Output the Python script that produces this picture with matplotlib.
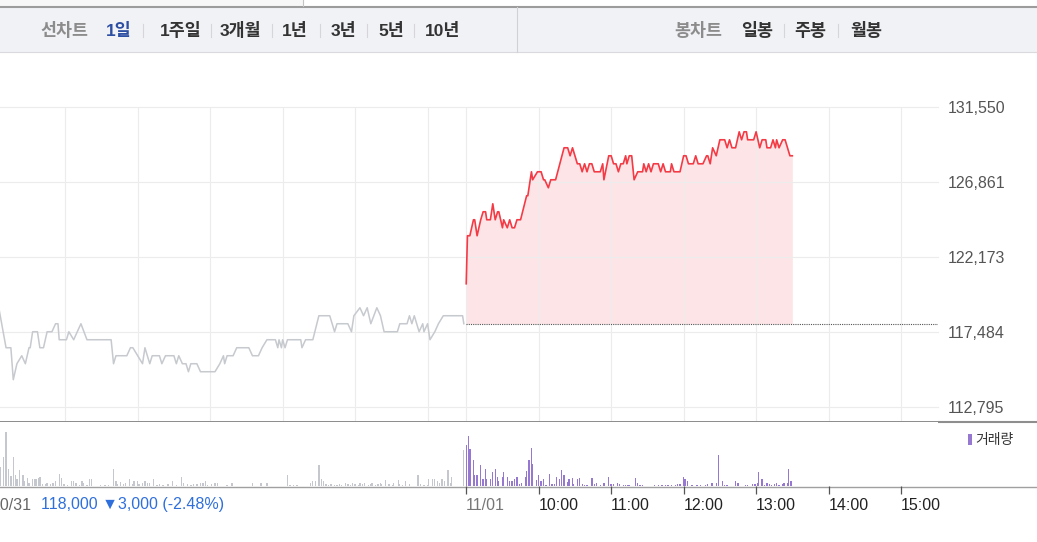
import matplotlib
matplotlib.use('Agg')
import matplotlib.pyplot as plt
from matplotlib.patches import Rectangle
from matplotlib.ticker import FuncFormatter

plt.rcParams['font.family'] = ['Liberation Sans', 'Noto Sans CJK KR', 'DejaVu Sans']

# ---- data ----
price_ticks = [112795, 117484, 122173, 126861, 131550]
prev_close = 118000
hour_minutes = [0, 60, 120, 180, 240, 300, 360]
hour_labels = ['11/01', '10:00', '11:00', '12:00', '13:00', '14:00', '15:00']
day_gap = 392  # minutes between 10/31 open and 11/01 open on the chart axis

# 10/31 (minutes after 09:00, price)
prev_min = [5, 11, 15, 17, 20, 24, 27, 30, 31, 33,
            37, 39, 42, 45, 49, 52, 54, 55, 61, 63,
            67, 70, 73, 78, 98, 100, 102, 111, 114, 116,
            120, 124, 126, 130, 132, 138, 140, 143, 150, 152,
            154, 157, 160, 162, 164, 169, 172, 184, 188, 191,
            192, 194, 199, 202, 212, 215, 220, 223, 227, 234,
            236, 237, 239, 240, 242, 244, 255, 256, 259, 265,
            270, 279, 283, 285, 294, 297, 299, 304, 307, 310,
            313, 318, 321, 324, 335, 337, 343, 345, 347, 349,
            351, 353, 356, 357, 360, 362, 366, 369, 373, 389,
            390]
prev_price = [119000, 116500, 116500, 114500, 115500, 116000, 115500, 116500, 116500, 117500,
              117500, 116500, 116500, 117500, 117500, 118000, 118000, 117000, 117000, 117500,
              117000, 117500, 118000, 117000, 117000, 115500, 116000, 116000, 116500, 116500,
              116000, 115500, 116500, 115500, 116000, 116000, 115500, 116000, 116000, 115500,
              116000, 115500, 115500, 115000, 115500, 115500, 115000, 115000, 115500, 116000,
              115500, 116000, 116000, 116500, 116500, 116000, 116000, 116500, 117000, 117000,
              116500, 117000, 116500, 117000, 116500, 117000, 117000, 116500, 117000, 117000,
              118500, 118500, 117500, 118000, 118000, 117500, 118500, 119000, 118500, 119000,
              118000, 119000, 118500, 117500, 117500, 118000, 118000, 118500, 118000, 118500,
              118000, 117500, 118000, 117500, 118000, 117000, 117500, 118000, 118500, 118500,
              118000]

# 11/01
today_min = [0, 1, 3, 6, 7, 9, 12, 14, 16, 17,
             20, 22, 24, 26, 27, 30, 31, 34, 36, 38,
             40, 42, 45, 50, 51, 54, 55, 59, 62, 64,
             65, 68, 70, 74, 81, 84, 86, 88, 92, 94,
             96, 98, 100, 102, 104, 106, 111, 113, 114, 118,
             120, 122, 124, 126, 128, 130, 132, 133, 135, 137,
             139, 142, 146, 147, 149, 151, 153, 155, 159, 161,
             163, 165, 169, 170, 172, 177, 180, 182, 184, 188,
             190, 192, 196, 199, 200, 202, 204, 207, 210, 214,
             216, 218, 220, 223, 226, 228, 230, 232, 233, 238,
             240, 243, 245, 248, 249, 252, 254, 256, 257, 259,
             262, 264, 268, 270]
today_price = [120500, 123500, 123500, 124500, 124500, 123500, 124500, 125000, 125000, 124500,
               124500, 125500, 124500, 125000, 125000, 124000, 124500, 124000, 124500, 124000,
               124000, 124500, 124500, 126000, 126000, 127500, 127000, 127500, 127500, 127000,
               127000, 126500, 127000, 127000, 129000, 129000, 128500, 129000, 128000, 128000,
               127500, 128000, 127500, 128000, 128000, 127500, 127500, 128000, 127000, 128500,
               128500, 128000, 128000, 127500, 128000, 128000, 128500, 128000, 128500, 128500,
               127000, 127500, 127500, 128000, 127500, 128000, 127500, 128000, 128000, 127500,
               128000, 127500, 127500, 128000, 127500, 127500, 128500, 128500, 128000, 128000,
               128500, 128000, 128000, 128500, 128500, 128000, 129000, 128500, 129500, 129500,
               129000, 129500, 129000, 129000, 130000, 129500, 130000, 130000, 129500, 129500,
               130000, 129000, 129500, 129500, 129000, 129000, 129500, 129000, 129500, 129000,
               129500, 129500, 128500, 128500]

# volume (relative units)
prev_vol_min = [6, 9, 11, 13, 15, 17, 19, 20, 22, 25,
                26, 29, 30, 33, 35, 36, 38, 39, 41, 44,
                45, 48, 50, 52, 55, 57, 59, 62, 65, 67,
                69, 72, 74, 75, 78, 80, 82, 89, 93, 96,
                100, 102, 103, 106, 108, 110, 113, 116, 117, 120,
                121, 124, 126, 128, 130, 133, 136, 138, 141, 145,
                149, 152, 156, 158, 161, 164, 166, 169, 172, 174,
                176, 178, 181, 184, 186, 194, 198, 215, 222, 227,
                244, 246, 249, 252, 263, 265, 267, 270, 272, 274,
                276, 278, 280, 283, 285, 287, 289, 292, 294, 296,
                298, 300, 303, 304, 306, 308, 311, 313, 314, 317,
                319, 321, 322, 325, 328, 331, 332, 336, 337, 339,
                342, 345, 352, 354, 357, 360, 361, 364, 366, 368,
                370, 372, 374, 377, 379, 380, 390]
prev_vol = [19, 29, 54, 17, 10, 29, 11, 7, 16, 11,
            5, 8, 3, 7, 7, 7, 8, 9, 2, 2,
            3, 2, 3, 5, 12, 8, 2, 1, 5, 5,
            3, 1, 5, 3, 1, 7, 7, 1, 1, 1,
            17, 5, 2, 4, 2, 3, 7, 2, 5, 5,
            2, 3, 5, 3, 3, 7, 1, 2, 1, 2,
            5, 1, 9, 3, 2, 1, 2, 2, 3, 3,
            5, 1, 2, 3, 3, 1, 3, 3, 3, 3,
            11, 1, 1, 1, 3, 5, 5, 21, 7, 5,
            2, 1, 2, 1, 1, 2, 1, 3, 2, 1,
            3, 2, 1, 3, 2, 3, 1, 2, 3, 1,
            2, 3, 2, 6, 2, 1, 3, 6, 2, 1,
            5, 2, 11, 2, 1, 1, 7, 7, 7, 5,
            3, 7, 5, 16, 3, 9, 36]
today_vol_min = [0, 2, 3, 6, 7, 9, 12, 14, 16, 17,
                 20, 22, 24, 26, 27, 30, 31, 34, 36, 38,
                 40, 42, 44, 46, 49, 50, 52, 54, 55, 58,
                 60, 62, 64, 66, 69, 71, 73, 75, 77, 79,
                 81, 84, 85, 88, 89, 92, 94, 96, 98, 100,
                 104, 106, 108, 111, 114, 118, 120, 122, 125, 127,
                 130, 132, 134, 135, 140, 142, 144, 146, 156, 159,
                 162, 165, 167, 170, 173, 175, 177, 180, 181, 183,
                 187, 191, 194, 198, 200, 203, 204, 207, 209, 212,
                 214, 216, 223, 225, 231, 233, 237, 239, 241, 242,
                 245, 247, 249, 251, 253, 255, 257, 259, 262, 263,
                 266, 267, 269]
today_vol = [41, 50, 37, 26, 11, 11, 21, 7, 17, 7,
             7, 14, 17, 9, 5, 9, 14, 9, 5, 5,
             7, 9, 2, 3, 9, 15, 26, 38, 22, 6,
             11, 5, 7, 1, 12, 2, 2, 9, 7, 16,
             11, 4, 7, 8, 2, 7, 8, 2, 1, 1,
             8, 2, 3, 1, 3, 9, 2, 2, 3, 2,
             1, 1, 1, 1, 8, 3, 1, 1, 1, 1,
             1, 1, 1, 1, 1, 2, 2, 9, 7, 5,
             1, 1, 1, 1, 2, 3, 3, 3, 31, 5,
             1, 1, 5, 3, 1, 1, 2, 2, 3, 14,
             7, 1, 3, 2, 1, 2, 3, 1, 2, 3,
             3, 17, 5]

prev_x = [m - day_gap for m in prev_min]
prev_vol_x = [m - day_gap for m in prev_vol_min]
grid_x = [m - day_gap for m in hour_minutes[1:]] + hour_minutes

W, H = 1037, 542
fig = plt.figure(figsize=(W / 100, H / 100), dpi=100)


def px_axes(x0, y0, x1, y1):
    return fig.add_axes([x0 / W, 1 - y1 / H, (x1 - x0) / W, (y1 - y0) / H])


# background / header
bg = px_axes(0, 0, W, H)
bg.set_xlim(0, W)
bg.set_ylim(H, 0)
bg.axis('off')
bg.add_patch(Rectangle((0, 0), 303, 6, color='#f7f7f7', lw=0))
bg.add_patch(Rectangle((0, 7), W, 45, color='#f1f2f6', lw=0))
bg.plot([0, W], [6.5, 6.5], color='#9c9c9c', lw=1.5)
bg.plot([0, W], [52, 52], color='#d9d9de', lw=0.8)
bg.plot([303, 303], [0, 6], color='#c4c4c4', lw=0.8)
bg.plot([517, 517], [7, 52], color='#d0d0d6', lw=0.8)

tabs = [('선차트', 64, '#8c8c8c'), ('1일', 119, '#2d4fa3'), ('1주일', 181, '#333333'),
        ('3개월', 240, '#333333'), ('1년', 295, '#333333'), ('3년', 343, '#333333'),
        ('5년', 391, '#333333'), ('10년', 443, '#333333'),
        ('봉차트', 698, '#8c8c8c'), ('일봉', 757, '#333333'), ('주봉', 810, '#333333'),
        ('월봉', 866, '#333333')]
for label, cx, col in tabs:
    bg.text(cx, 31, label, ha='center', va='center', fontsize=12.5, color=col,
            fontweight='bold', family=['Liberation Sans', 'Noto Sans CJK KR', 'DejaVu Sans'])
for sx in [143, 211, 272, 320, 367, 414, 784, 838]:
    bg.plot([sx, sx], [24, 37], color='#d6d6da', lw=0.8)

# panel separators
bg.plot([0, W], [421.5, 421.5], color='#8e8e8e', lw=1.5)
bg.plot([0, W], [486.5, 486.5], color='#a0a0a0', lw=1.0)

# ---- price panel ----
ax = px_axes(0, 107, 938, 421)
ax.set_xlim(-386, 390.6)
ax.set_ylim(131550 - 314 * (131550 - 112795) / 300, 131550)
for s in ax.spines.values():
    s.set_visible(False)
ax.set_xticks(grid_x)
ax.set_yticks(price_ticks)
ax.grid(True, color='#ececec', lw=0.8)
for gl in ax.get_ygridlines():
    gl.set_clip_on(False)
ax.tick_params(axis='x', length=0, labelbottom=False)
ax.yaxis.tick_right()
ax.tick_params(axis='y', length=0, pad=7, labelsize=11.5, labelcolor='#555555')
ax.yaxis.set_major_formatter(FuncFormatter(lambda v, p: f'{int(round(v)):,}'))

ax.fill_between(today_min, today_price, prev_close, color='#fde5e7', lw=0)
ax.plot(prev_x, prev_price, color='#c6c9ce', lw=1.1)
ax.plot(today_min, today_price, color='#f43a45', lw=1.2)
ax.hlines(prev_close, today_min[0], ax.get_xlim()[1], color='#555555', lw=0.8,
          linestyles=(0, (1, 1)))

# ---- volume panel ----
vax = px_axes(0, 422, 938, 486)
vax.set_xlim(ax.get_xlim())
vax.set_ylim(0, 64)
for s in vax.spines.values():
    s.set_visible(False)
vax.set_yticks([])
vax.bar(prev_vol_x, prev_vol, width=1.1, color='#c4c7cd', lw=0)
vax.bar(today_vol_min, today_vol, width=1.1, color='#9678d0', lw=0)
vax.set_xticks(hour_minutes, hour_labels)
vax.tick_params(axis='x', direction='out', length=6, width=0.9, color='#555555',
                pad=3, labelsize=11.5)
for i, t in enumerate(vax.get_xticklabels()):
    t.set_ha('left')
    t.set_color('#777777' if i == 0 else '#222222')

bg.text(-8, 505, '10/31', ha='left', va='center', fontsize=11.5, color='#666666')
bg.text(41, 505, '118,000 ▼3,000 (-2.48%)', ha='left', va='center', fontsize=11.5,
        color='#2f6fdc')

bg.add_patch(Rectangle((968, 434), 4, 11, color='#9678d0', lw=0))
bg.text(975, 440, '거래량', ha='left', va='center', fontsize=10, color='#333333',
        family=['Noto Sans CJK KR', 'DejaVu Sans'])

fig.savefig('out.png', dpi=100)
